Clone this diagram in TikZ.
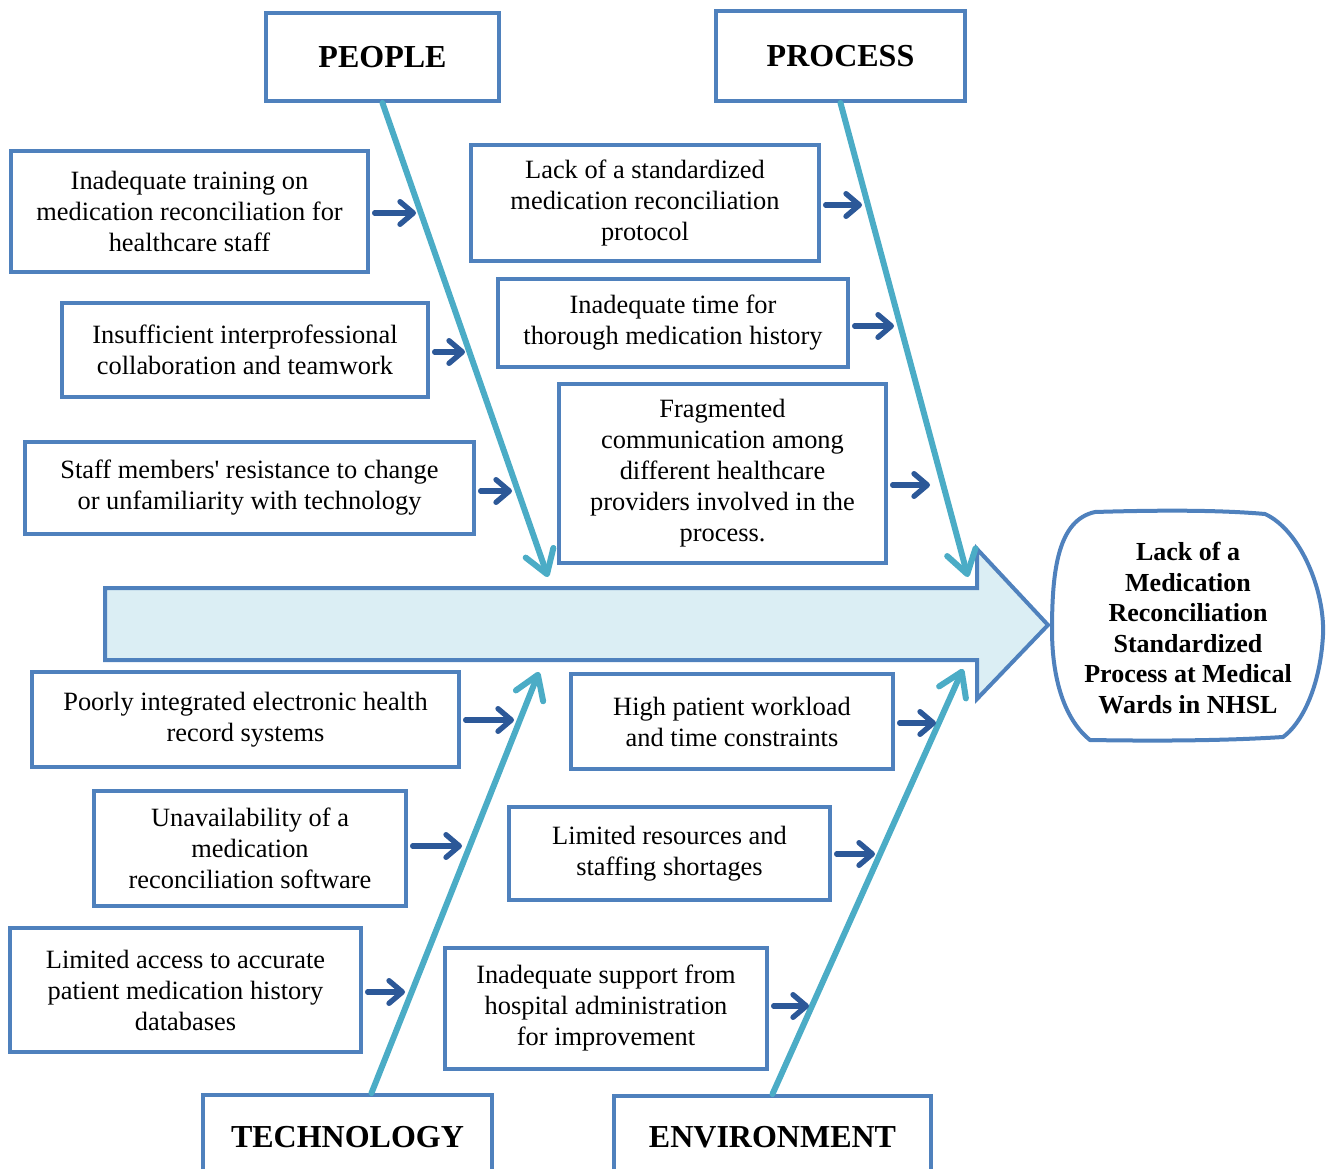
\documentclass[tikz,border=0pt]{standalone}
\usepackage{fontspec}
\setmainfont{Liberation Serif}
% same face without the TeX quote mapping, for a straight apostrophe
\newfontfamily\straightfont{Liberation Serif}
\usetikzlibrary{arrows.meta,calc}
\definecolor{boxblue}{RGB}{79,129,189}
\definecolor{bonecol}{RGB}{75,172,198}
\definecolor{linkcol}{RGB}{44,88,152}
\definecolor{spinefill}{RGB}{219,238,244}

\begin{document}
\begin{tikzpicture}[x=0.75pt,y=-0.75pt,
  sz/.style 2 args={minimum width=#1*0.75pt, minimum height=#2*0.75pt},
  cause/.style={draw=boxblue, line width=3pt, fill=white, align=center, inner sep=0pt,
    font=\fontsize{19.8}{23.25}\selectfont},
  category/.style={draw=boxblue, line width=3pt, fill=white, inner sep=0pt,
    font=\fontsize{24}{28}\selectfont\bfseries},
  bone/.style={draw=bonecol, line width=4.5pt, line cap=round,
    -{Straight Barb[length=17pt,width=22pt,round]}},
  link/.style={draw=linkcol, line width=4pt, line cap=round,
    -{Straight Barb[length=10pt,width=17pt,round]}},
]
\useasboundingbox (0,0) rectangle (1330,1169);
\clip (0,0) rectangle (1330,1169);

% spine: the large block arrow
\draw[draw=boxblue, line width=3pt, fill=spinefill, line join=miter]
  (105,588) -- (977,588) -- (977,549) -- (1048,625) -- (977,699) -- (977,660) -- (105,660) -- cycle;

% effect (head of the fish)
\draw[draw=boxblue, line width=3pt, fill=white]
  (1095,512) .. controls (1160,510) and (1220,510) .. (1265,514)
  .. controls (1300,530) and (1325,590) .. (1323,635)
  .. controls (1320,690) and (1300,725) .. (1283,737)
  .. controls (1220,741) and (1150,741) .. (1090,740)
  .. controls (1065,720) and (1052,680) .. (1052,630)
  .. controls (1052,570) and (1058,520) .. cycle;
\node[align=center, font=\fontsize{19.5}{22.9}\selectfont\bfseries] (effect) at (1188,628)
  {Lack of a\\Medication\\Reconciliation\\Standardized\\Process at Medical\\Wards in NHSL};

% category boxes
\node[category, sz={233}{88}] (people) at (382.5,57) {PEOPLE};
\node[category, sz={249}{90}] (process) at (840.5,56) {PROCESS};
\node[category, sz={289}{84}] (tech) at (347.5,1137) {TECHNOLOGY};
\node[category, sz={317}{82}] (env) at (772.5,1137) {ENVIRONMENT};

% causes: people
\node[cause, sz={357}{121}] (b1) at (189.5,211.5) {Inadequate training on\\medication reconciliation for\\healthcare staff};
\node[cause, sz={366}{94}] (b2) at (245,350) {Insufficient interprofessional\\collaboration and teamwork};
\node[cause, sz={449}{92}] (b3) at (249.5,488) {Staff members{\straightfont '} resistance to change\\or unfamiliarity with technology};
% causes: process
\node[cause, sz={348}{116}] (b4) at (645,203) {Lack of a standardized\\medication reconciliation\\protocol};
\node[cause, sz={350}{88}] (b5) at (673,323) {Inadequate time for\\thorough medication history};
\node[cause, sz={327}{179}] (b6) at (722.5,473.5) {Fragmented\\communication among\\different healthcare\\providers involved in the\\process.};
% causes: technology
\node[cause, sz={427}{95}] (b7) at (245.5,719.5) {Poorly integrated electronic health\\record systems};
\node[cause, sz={312}{115}] (b8) at (250,848.5) {Unavailability of a\\medication\\reconciliation software};
\node[cause, sz={351}{124}] (b9) at (185.5,990) {Limited access to accurate\\patient medication history\\databases};
% causes: environment
\node[cause, sz={322}{95}] (b10) at (732,721.5) {High patient workload\\and time constraints};
\node[cause, sz={321}{93}] (b11) at (669.5,853.5) {Limited resources and\\staffing shortages};
\node[cause, sz={322}{121}] (b12) at (606,1008.5) {Inadequate support from\\hospital administration\\for improvement};

% where the bones meet the spine
\coordinate (tipP) at (548,577);
\coordinate (tipR) at (968,577);
\coordinate (tipT) at (539,672);
\coordinate (tipE) at (963,669);

% bones
\draw[bone] (people.south) -- (tipP);
\draw[bone] (process.south) -- (tipR);
\draw[bone] ([xshift=18pt]tech.north) -- (tipT);
\draw[bone] (env.north) -- (tipE);

% ends of the cause arrows on the bones
\coordinate (e1) at (416,213);
\coordinate (e2) at (465,352);
\coordinate (e3) at (512,491);
\coordinate (e4) at (862,205);
\coordinate (e5) at (894,326);
\coordinate (e6) at (930,485);
\coordinate (e7) at (514,720);
\coordinate (e8) at (462,846);
\coordinate (e9) at (405,992);
\coordinate (e10) at (936,723);
\coordinate (e11) at (875,854);
\coordinate (e12) at (809,1006);

\foreach \i in {1,...,12}{
  \draw[link] ([xshift=3.5pt]b\i.east |- e\i) -- (e\i);
}
\end{tikzpicture}
\end{document}
